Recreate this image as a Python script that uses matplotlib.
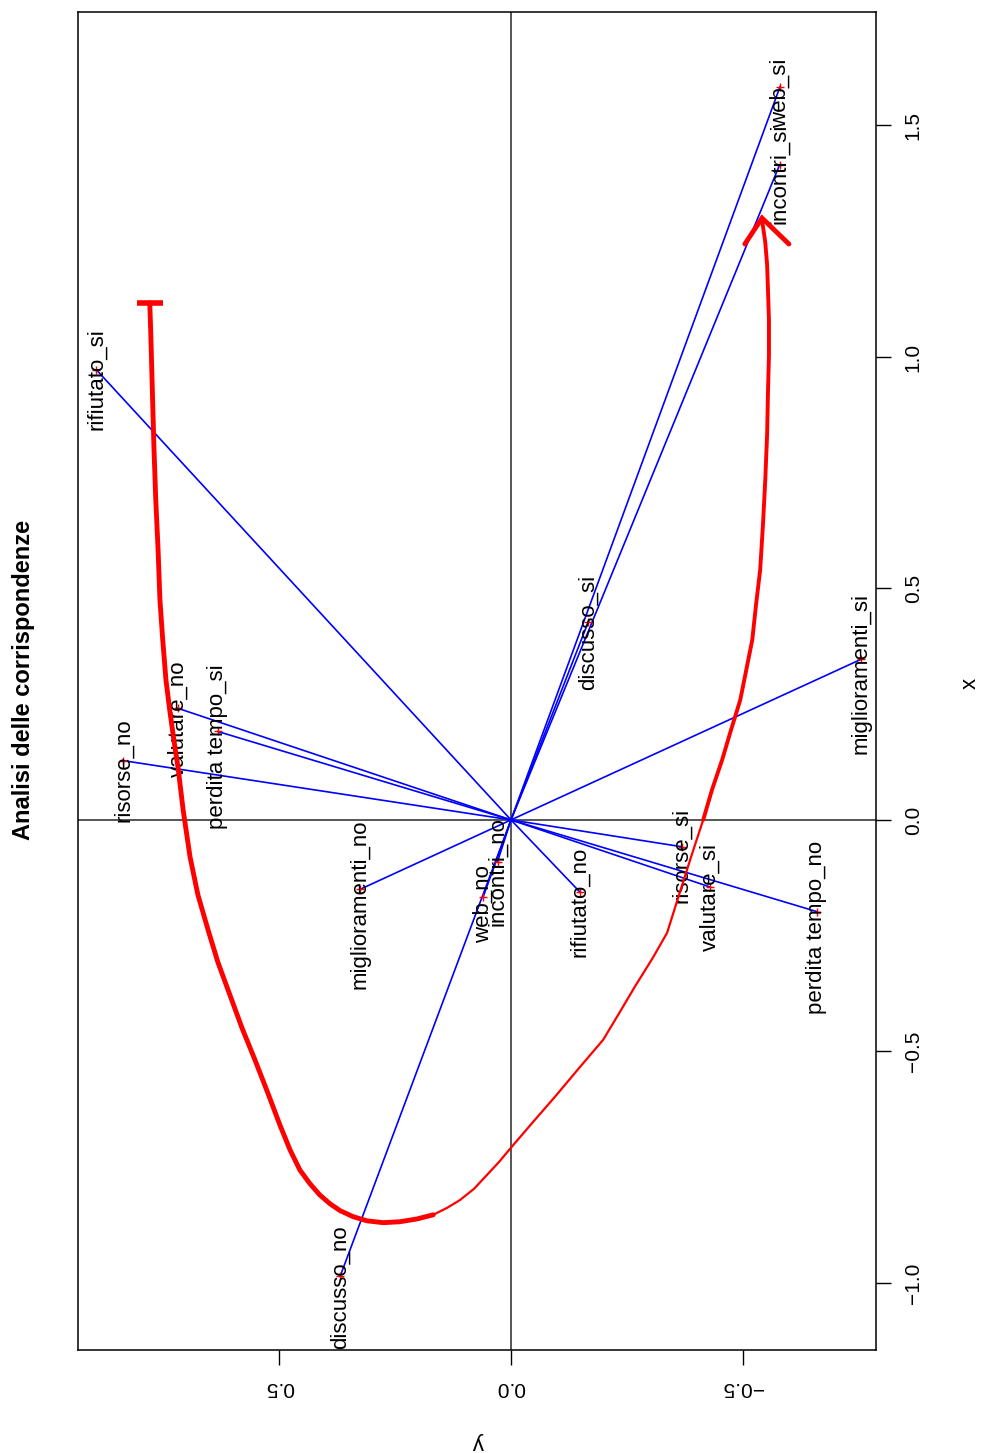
"""
Analisi delle corrispondenze - biplot delle modalità, ruotato di 90 gradi
"""

import matplotlib
matplotlib.use("Agg")
import matplotlib.pyplot as plt
from matplotlib.transforms import offset_copy

plt.rcParams['font.family'] = ['Liberation Sans', 'DejaVu Sans']

# modalità e coordinate sulle due dimensioni
modalita = ['rifiutato_si', 'risorse_no', 'valutare_no', 'perdita tempo_si',
            'miglioramenti_no', 'discusso_no', 'web_no', 'incontri_no',
            'rifiutato_no', 'discusso_si', 'miglioramenti_si', 'risorse_si',
            'valutare_si', 'perdita tempo_no', 'incontri_si', 'web_si']
dim_x = [0.972, 0.128, 0.241, 0.191, -0.150, -0.986, -0.166, -0.090,
         -0.155, 0.428, 0.347, -0.058, -0.145, -0.198, 1.415, 1.584]
dim_y = [0.895, 0.837, 0.719, 0.633, 0.326, 0.369, 0.060, 0.029,
         -0.148, -0.167, -0.756, -0.369, -0.430, -0.660, -0.580, -0.581]

# tratto rosso fatto a mano (coordinate y, x), in tre pezzi di spessore diverso
tratto_sx_y = [0.780, 0.778, 0.775, 0.771, 0.767, 0.762, 0.758, 0.752, 0.745,
               0.737, 0.728, 0.719, 0.708, 0.693, 0.676, 0.654, 0.633, 0.607,
               0.581, 0.553, 0.525, 0.499, 0.477, 0.456, 0.434, 0.413, 0.391,
               0.369, 0.341, 0.311, 0.276, 0.240, 0.203, 0.168]
tratto_sx_x = [1.117, 1.058, 0.950, 0.806, 0.691, 0.583, 0.475, 0.389, 0.302,
               0.238, 0.173, 0.114, 0.022, -0.080, -0.162, -0.238, -0.307, -0.378,
               -0.449, -0.518, -0.590, -0.659, -0.713, -0.756, -0.786, -0.810,
               -0.829, -0.844, -0.857, -0.866, -0.870, -0.868, -0.862, -0.853]
tratto_dx_y = [0.168, 0.138, 0.110, 0.080, 0.052, 0.026, 0.000, -0.048, -0.095,
               -0.147, -0.199, -0.235, -0.270, -0.305, -0.337, -0.354, -0.371,
               -0.393, -0.415]
tratto_dx_x = [-0.853, -0.838, -0.821, -0.797, -0.767, -0.739, -0.708, -0.652,
               -0.598, -0.536, -0.475, -0.415, -0.356, -0.300, -0.244, -0.190,
               -0.136, -0.067, 0.000]
tratto_su_y = [-0.415, -0.434, -0.456, -0.475, -0.495, -0.508, -0.521, -0.529,
               -0.538, -0.544, -0.549, -0.553, -0.555, -0.557, -0.557, -0.555,
               -0.553, -0.549, -0.542]
tratto_su_x = [0.000, 0.065, 0.130, 0.194, 0.259, 0.324, 0.389, 0.464, 0.540,
               0.637, 0.734, 0.832, 0.929, 1.004, 1.080, 1.140, 1.199, 1.248,
               1.296]
barra_y = [0.808, 0.752]
barra_x = [1.117, 1.117]
punta_y = [-0.505, -0.542, -0.600]
punta_x = [1.244, 1.300, 1.244]

tick_x = [-1.0, -0.5, 0.0, 0.5, 1.0, 1.5]
tick_y = [0.5, 0.0, -0.5]

fig = plt.figure(figsize=(9.82, 14.53), dpi=100)
ax = fig.add_axes([0.0794, 0.0709, 0.8126, 0.9208])

ax.axhline(0, color='#555555', lw=1.4, zorder=1)
ax.axvline(0, color='#555555', lw=1.4, zorder=1)

for mx, my in zip(dim_x, dim_y):
    ax.plot([0, my], [0, mx], color='blue', lw=1.2, zorder=2)
ax.plot(dim_y, dim_x, '+', color='red', ms=6, mew=1, zorder=3)

testi = []
for nome, mx, my in zip(modalita, dim_x, dim_y):
    testi.append(ax.text(my, mx, nome, rotation=90, ha='center', va='center',
                         fontsize=16, color='black', zorder=4))

# il tratto rosso
stile = dict(color='red', solid_capstyle='round', solid_joinstyle='round', zorder=5)
ax.plot(tratto_sx_y, tratto_sx_x, lw=3.5, **stile)
ax.plot(tratto_dx_y, tratto_dx_x, lw=1.6, **stile)
ax.plot(tratto_su_y, tratto_su_x, lw=2.8, **stile)
ax.plot(barra_y, barra_x, color='red', lw=4, solid_capstyle='butt', zorder=5)
ax.plot(punta_y, punta_x, color='red', lw=3.5, solid_capstyle='round',
        solid_joinstyle='miter', zorder=5)

ax.set_xlim(0.935, -0.788)
ax.set_ylim(-1.145, 1.745)

ax.set_xticks(tick_y)
ax.set_xticklabels([f'{v:.1f}'.replace('-', '\u2212') for v in tick_y], rotation=180)
ax.yaxis.tick_right()
ax.set_yticks(tick_x)
ax.set_yticklabels([f'{v:.1f}'.replace('-', '\u2212') for v in tick_x],
                   rotation=90, va='center')
ax.tick_params(direction='out', length=11, width=1, labelsize=15, pad=9)
for sp in ax.spines.values():
    sp.set_linewidth(1.1)

fig.text(24 / 982, 1 - 680 / 1453, 'Analisi delle corrispondenze', rotation=90,
         ha='center', va='center', fontsize=17, fontweight='bold')
fig.text(970 / 982, 1 - 683 / 1453, 'x', rotation=90, ha='center', va='center',
         fontsize=16)
fig.text(478 / 982, 1 - 1443 / 1453, 'y', rotation=180, ha='center', va='center',
         fontsize=16)

# etichette leggermente spostate verso l'inizio della stringa
renderer = fig.canvas.get_renderer()
for t in testi:
    h = t.get_window_extent(renderer).height
    t.set_transform(offset_copy(ax.transData, fig=fig, y=-0.09 * h, units='dots'))

fig.savefig('out.png', dpi=100)
